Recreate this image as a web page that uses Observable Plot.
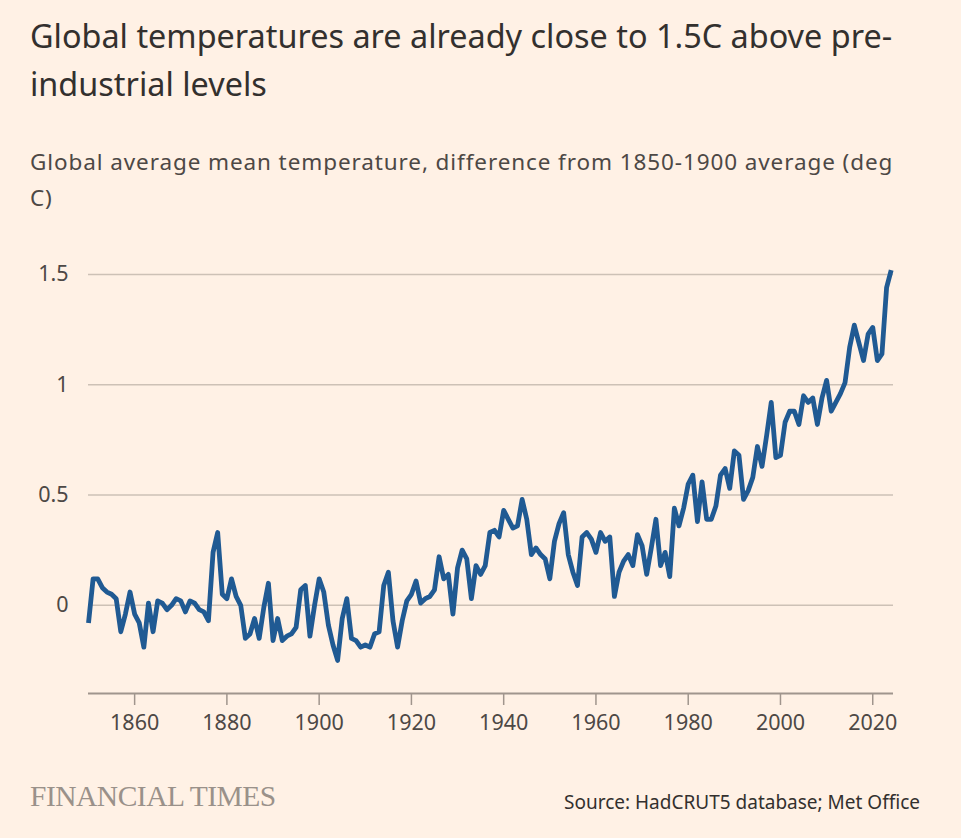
<!DOCTYPE html>
<html>
<head>
<meta charset="utf-8">
<script src="https://cdn.jsdelivr.net/npm/d3@7"></script>
<script src="https://cdn.jsdelivr.net/npm/@observablehq/plot@0.6"></script>
<style>
  html, body { margin: 0; padding: 0; background: #fff1e5; }
  #page { position: relative; width: 961px; height: 838px; background: #fff1e5; overflow: hidden;
          font-family: "Noto Sans", "Open Sans", sans-serif; }
  #title { position: absolute; left: 30px; top: 11px; font-size: 32.4px; line-height: 48px; color: #33302e; white-space: nowrap; }
  #subtitle { position: absolute; left: 30px; top: 144px; font-size: 22.5px; letter-spacing: 0.9px; line-height: 36px; color: #4d4845; white-space: nowrap; }
  #chart { position: absolute; left: 0; top: 230px; }
  #logo { position: absolute; left: 30px; top: 780px; font-family: "Liberation Serif", "DejaVu Serif", serif; font-size: 29.5px; color: #9a918a; letter-spacing: -0.5px; white-space: nowrap; }
  #source { position: absolute; right: 41px; top: 789px; font-size: 19px; color: #33302e; white-space: nowrap; }
</style>
</head>
<body>
<div id="page">
  <div id="title">Global temperatures are already close to 1.5C above pre-<br>industrial levels</div>
  <div id="subtitle">Global average mean temperature, difference from 1850-1900 average (deg<br>C)</div>
  <div id="chart"></div>
  <div id="logo">FINANCIAL TIMES</div>
  <div id="source">Source: HadCRUT5 database; Met Office</div>
</div>
<script>
// Years 1850-2024
const years = d3.range(1850, 2025);
// Global mean temperature difference from 1850-1900 average (deg C)
const anomalies = [
  -0.08, 0.12, 0.12, 0.08, 0.06, 0.05, 0.03, -0.12, -0.04, 0.06,   // 1850-1859
  -0.04, -0.08, -0.19, 0.01, -0.12, 0.02, 0.01, -0.02, 0.00, 0.03, // 1860-1869
  0.02, -0.03, 0.02, 0.01, -0.02, -0.03, -0.07, 0.24, 0.33, 0.05,  // 1870-1879
  0.03, 0.12, 0.04, 0.00, -0.15, -0.13, -0.06, -0.15, -0.01, 0.10, // 1880-1889
  -0.16, -0.06, -0.16, -0.14, -0.13, -0.10, 0.07, 0.09, -0.14, 0.00, // 1890-1899
  0.12, 0.06, -0.09, -0.18, -0.25, -0.06, 0.03, -0.15, -0.16, -0.19, // 1900-1909
  -0.18, -0.19, -0.13, -0.12, 0.09, 0.15, -0.07, -0.19, -0.07, 0.02, // 1910-1919
  0.05, 0.11, 0.01, 0.03, 0.04, 0.07, 0.22, 0.12, 0.14, -0.04,      // 1920-1929
  0.17, 0.25, 0.21, 0.03, 0.18, 0.14, 0.18, 0.33, 0.34, 0.31,       // 1930-1939
  0.43, 0.39, 0.35, 0.36, 0.48, 0.39, 0.23, 0.26, 0.23, 0.21,       // 1940-1949
  0.12, 0.29, 0.37, 0.42, 0.23, 0.15, 0.09, 0.31, 0.33, 0.30,       // 1950-1959
  0.24, 0.33, 0.29, 0.31, 0.04, 0.15, 0.20, 0.23, 0.18, 0.32,       // 1960-1969
  0.27, 0.14, 0.26, 0.39, 0.18, 0.24, 0.13, 0.44, 0.36, 0.44,       // 1970-1979
  0.55, 0.59, 0.38, 0.56, 0.39, 0.39, 0.45, 0.59, 0.62, 0.53,       // 1980-1989
  0.70, 0.68, 0.48, 0.52, 0.58, 0.72, 0.63, 0.77, 0.92, 0.67,       // 1990-1999
  0.68, 0.83, 0.88, 0.88, 0.82, 0.95, 0.92, 0.94, 0.82, 0.94,       // 2000-2009
  1.02, 0.88, 0.92, 0.96, 1.01, 1.17, 1.27, 1.19, 1.11, 1.23,       // 2010-2019
  1.26, 1.11, 1.14, 1.44, 1.52                                      // 2020-2024
];
const yTicks = [0, 0.5, 1, 1.5];
const yTickLabels = ["0", "0.5", "1", "1.5"];
const xTicks = [1860, 1880, 1900, 1920, 1940, 1960, 1980, 2000, 2020];

const data = years.map((year, i) => ({year, value: anomalies[i]}));

const chart = Plot.plot({
  width: 961,
  height: 519,
  marginLeft: 88,
  marginRight: 68,
  marginTop: 44,
  marginBottom: 56,
  style: {background: "transparent", fontFamily: '"Noto Sans", sans-serif', color: "#4d4845", overflow: "visible"},
  x: {domain: [1850, 2024.5]},
  y: {domain: [-0.4, 1.5]},
  marks: [
    Plot.gridY(yTicks, {stroke: "#cdc1b6", strokeOpacity: 1, strokeWidth: 1.5}),
    Plot.axisY(yTicks, {tickSize: 0, tickPadding: 20, fontSize: 21.5, fill: "#4d4845",
      tickFormat: d => yTickLabels[yTicks.indexOf(d)], label: null}),
    Plot.ruleY([-0.4], {stroke: "#a0958d", strokeWidth: 2}),
    Plot.axisX(xTicks, {tickSize: 12, tickPadding: 9, fontSize: 21.5, fill: "#4d4845", stroke: "#a0958d",
      strokeWidth: 1.5, tickFormat: d => String(d), label: null}),
    Plot.line(data, {x: "year", y: "value", stroke: "#205a93", strokeWidth: 4.8, strokeLinejoin: "round", strokeLinecap: "butt"})
  ]
});
document.getElementById("chart").appendChild(chart);
</script>
</body>
</html>
